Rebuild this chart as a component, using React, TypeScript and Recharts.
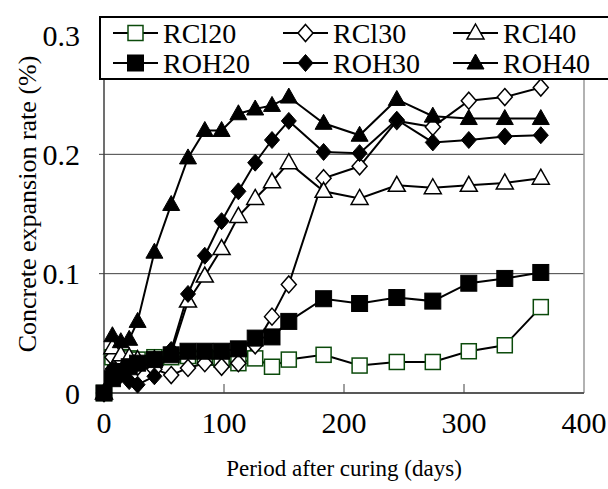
import React from "react";
import { LineChart, Line, XAxis, YAxis, CartesianGrid, ReferenceLine, Legend } from "recharts";

const days = [0, 7, 14, 21, 28, 42, 56, 70, 84, 98, 112, 126, 140, 154, 183, 213, 244, 274, 304, 334, 364];
const RCl20 = [0, 0.030, 0.030, 0.029, 0.028, 0.030, 0.030, 0.031, 0.030, 0.028, 0.025, 0.029, 0.022, 0.028, 0.032, 0.023, 0.026, 0.026, 0.035, 0.040, 0.072];
const RCl30 = [0, 0.030, 0.028, 0.025, 0.022, 0.020, 0.015, 0.021, 0.025, 0.022, 0.025, 0.040, 0.064, 0.091, 0.180, 0.190, 0.228, 0.223, 0.245, 0.248, 0.256];
const RCl40 = [0, 0.038, 0.032, 0.030, 0.028, 0.028, 0.033, 0.077, 0.098, 0.121, 0.148, 0.163, 0.177, 0.193, 0.169, 0.163, 0.174, 0.172, 0.174, 0.176, 0.180];
const ROH20 = [0, 0.012, 0.018, 0.022, 0.025, 0.028, 0.032, 0.035, 0.035, 0.035, 0.037, 0.046, 0.047, 0.060, 0.079, 0.075, 0.080, 0.077, 0.092, 0.096, 0.101];
const ROH30 = [0, 0.020, 0.015, 0.010, 0.007, 0.014, 0.036, 0.083, 0.115, 0.144, 0.169, 0.193, 0.212, 0.228, 0.202, 0.201, 0.229, 0.210, 0.212, 0.215, 0.216];
const ROH40 = [0, 0.048, 0.043, 0.045, 0.060, 0.118, 0.158, 0.197, 0.220, 0.220, 0.234, 0.238, 0.241, 0.248, 0.226, 0.216, 0.246, 0.232, 0.230, 0.230, 0.230];

const xTicks = [0, 100, 200, 300, 400];
const yTicks = [0, 0.1, 0.2, 0.3];
const yTickLabels = ["0", "0.1", "0.2", "0.3"];

const xTitle = "Period after curing (days)";
const yTitle = "Concrete expansion rate (%)";

type Shape = "square" | "diamond" | "triangle";
const seriesDefs: { key: string; values: number[]; shape: Shape; filled: boolean; color: string }[] = [
  { key: "RCl20", values: RCl20, shape: "square", filled: false, color: "#0b4a0b" },
  { key: "RCl30", values: RCl30, shape: "diamond", filled: false, color: "#000" },
  { key: "RCl40", values: RCl40, shape: "triangle", filled: false, color: "#000" },
  { key: "ROH20", values: ROH20, shape: "square", filled: true, color: "#000" },
  { key: "ROH30", values: ROH30, shape: "diamond", filled: true, color: "#000" },
  { key: "ROH40", values: ROH40, shape: "triangle", filled: true, color: "#000" },
];

const data = days.map((d, i) => {
  const row: Record<string, number> = { day: d };
  seriesDefs.forEach((s) => (row[s.key] = s.values[i]));
  return row;
});

const FONT = '"Liberation Serif", "Times New Roman", serif';

function Marker({ cx, cy, shape, filled, color }: { cx: number; cy: number; shape: Shape; filled: boolean; color: string }) {
  const fill = filled ? color : "#fff";
  const sw = filled ? 1 : 1.5;
  if (shape === "square") {
    const h = filled ? 8 : 7.5;
    return <rect x={cx - h} y={cy - h} width={2 * h} height={2 * h} fill={fill} stroke={color} strokeWidth={sw} />;
  }
  if (shape === "diamond") {
    const w = 7.5, hh = 8.5;
    return <polygon points={`${cx},${cy - hh} ${cx + w},${cy} ${cx},${cy + hh} ${cx - w},${cy}`} fill={fill} stroke={color} strokeWidth={sw} />;
  }
  const w = 8.5;
  return <polygon points={`${cx},${cy - 9} ${cx + w},${cy + 6} ${cx - w},${cy + 6}`} fill={fill} stroke={color} strokeWidth={sw} strokeLinejoin="miter" />;
}

const XTick = (props: any) => {
  const { x, y, payload } = props;
  return (
    <g>
      {payload.value > 0 && payload.value < 400 ? <line x1={x} x2={x} y1={y} y2={y - 9} stroke="#404040" strokeWidth={1} /> : null}
      <text x={x} y={y + 40} textAnchor="middle" fontSize={30} fontFamily={FONT} fill="#000">
        {payload.value}
      </text>
    </g>
  );
};

const XTitle = () => (
  <text x={344} y={476} textAnchor="middle" fontSize={23} fontFamily={FONT} fill="#000">
    {xTitle}
  </text>
);

const YTitle = () => (
  <text x={27} y={204} transform="rotate(-90, 27, 204)" textAnchor="middle" dominantBaseline="central" fontSize={26} fontFamily={FONT} fill="#000">
    {yTitle}
  </text>
);

const LegendBox = () => (
  <div style={{ width: 509, height: 64, border: "2px solid #000", borderRight: "none", background: "#fff", boxSizing: "border-box" }}>
    <svg width={507} height={60} style={{ display: "block" }}>
      {seriesDefs.map((s, i) => {
        const col = i % 3;
        const row = Math.floor(i / 3);
        const x0 = 12 + col * 170;
        const cy = 15 + row * 30;
        return (
          <g key={s.key}>
            <line x1={x0} x2={x0 + 45} y1={cy} y2={cy} stroke="#000" strokeWidth={2} />
            <Marker cx={x0 + 22.5} cy={cy} shape={s.shape} filled={s.filled} color={s.color} />
            <text x={x0 + 50} y={cy + 10} fontSize={28} fontFamily={FONT} fill="#000">
              {s.key}
            </text>
          </g>
        );
      })}
    </svg>
  </div>
);

export default function App() {
  return (
    <div style={{ position: "absolute", left: 0, top: 0, width: 608, height: 489, background: "#fff" }}>
      <LineChart width={608} height={489} data={data} margin={{ top: 35, right: 24, left: 44, bottom: 36 }}>
        <CartesianGrid vertical={false} stroke="#404040" strokeWidth={1} />
        <ReferenceLine x={400} stroke="#999" strokeWidth={1.5} />
        <XAxis
          dataKey="day"
          type="number"
          domain={[0, 400]}
          ticks={xTicks}
          height={60}
          tickLine={false}
          tickSize={0}
          tickMargin={0}
          tick={<XTick />}
          axisLine={{ stroke: "#404040", strokeWidth: 1.5 }}
          label={<XTitle />}
        />
        <YAxis
          type="number"
          domain={[0, 0.3]}
          ticks={yTicks}
          width={60}
          tickSize={5}
          tickMargin={19}
          tickFormatter={(v: number) => yTickLabels[yTicks.indexOf(v)] ?? String(v)}
          tick={{ fontSize: 30, fontFamily: FONT, fill: "#000" }}
          tickLine={{ stroke: "#404040" }}
          axisLine={{ stroke: "#404040", strokeWidth: 1.5 }}
          label={<YTitle />}
          interval={0}
        />
        {seriesDefs.map((s) => (
          <Line
            key={s.key}
            dataKey={s.key}
            stroke="#000"
            strokeWidth={2}
            isAnimationActive={false}
            dot={(p: any) => <Marker key={`${s.key}-${p.index}`} cx={p.cx} cy={p.cy} shape={s.shape} filled={s.filled} color={s.color} />}
          />
        ))}
        <Legend
          layout="horizontal"
          verticalAlign="middle"
          align="center"
          content={<LegendBox />}
          wrapperStyle={{ position: "absolute", left: 99, top: 16, width: 509, height: 64 }}
        />
      </LineChart>
    </div>
  );
}
